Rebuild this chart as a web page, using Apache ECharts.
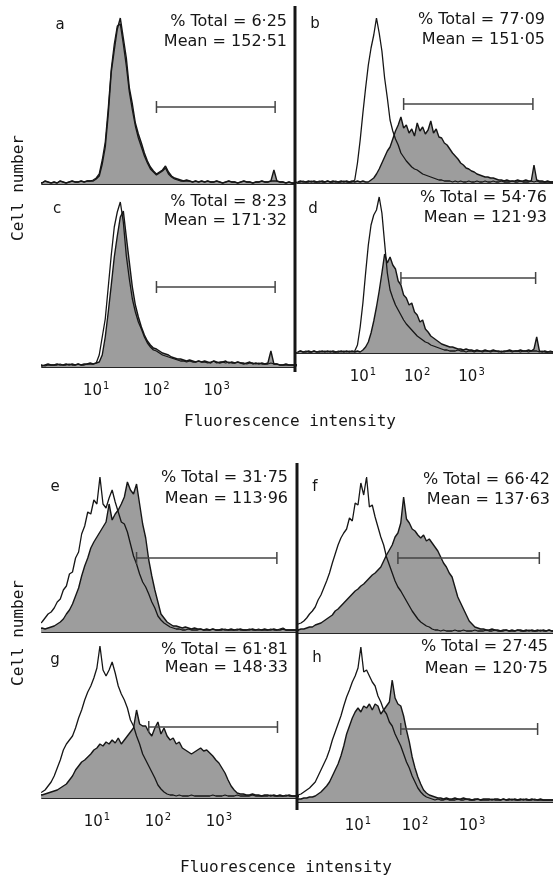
<!DOCTYPE html>
<html>
<head>
<meta charset="utf-8">
<title>Fluorescence histograms</title>
<script src="https://cdn.jsdelivr.net/npm/echarts@6/dist/echarts.min.js"></script>
<style>
  html, body { margin: 0; padding: 0; background: #fff; }
  #chart { width: 553px; height: 877px; }
</style>
</head>
<body>
<div id="chart"></div>
<script>
// channel bins, in decades (log10 of fluorescence intensity)
const bins = [
  -0.2,-0.15,-0.1,-0.05,0,0.05,0.1,0.15,0.2,0.25,
  0.3,0.35,0.4,0.45,0.5,0.55,0.6,0.65,0.7,0.75,
  0.8,0.85,0.9,0.95,1,1.05,1.1,1.15,1.2,1.25,
  1.3,1.35,1.4,1.45,1.5,1.55,1.6,1.65,1.7,1.75,
  1.8,1.85,1.9,1.95,2,2.05,2.1,2.15,2.2,2.25,
  2.3,2.35,2.4,2.45,2.5,2.55,2.6,2.65,2.7,2.75,
  2.8,2.85,2.9,2.95,3,3.05,3.1,3.15,3.2,3.25,
  3.3,3.35,3.4,3.45,3.5,3.55,3.6,3.65,3.7,3.75,
  3.8,3.85,3.9,3.95,4,4.05,4.1,4.15,4.2,4.25,
  4.3,4.35,4.4,4.45,4.5,4.55
];

// cell counts per bin (open = control, fill = stained)
const aOpen = [
  1,2,1,2,1,2,1,3,2,1, 2,1,3,2,1,2,3,2,2,3, 2,3,3,4,6,10,24,42,76,115,
  140,158,160,140,118,92,74,58,46,37, 28,21,15,12,9,11,13,16,10,7, 5,4,3,3,3,3,2,3,2,3,
  2,3,2,2,3,2,1,2,3,2, 2,1,2,3,2,2,1,2,2,3, 2,2,3,3,3,2,2,1,2,1, 1,2,1,2,1,1
];
const aFill = [
  1,2,1,2,1,2,1,3,2,1, 2,1,3,2,1,2,3,2,2,3, 2,3,3,3,5,8,20,37,70,112,
  134,155,166,146,126,96,80,61,50,41, 31,23,17,13,10,12,14,18,12,8, 6,5,4,3,4,3,2,3,2,3,
  2,3,2,2,3,2,1,2,3,2, 2,1,2,3,2,2,1,2,2,3, 2,2,3,14,3,2,2,1,2,1, 1,2,1,2,1,1
];
const bOpen = [
  1,1,2,1,1,2,1,1,2,1, 1,2,1,1,2,1,1,2,1,1, 1,3,20,43,70,95,118,135,148,165,
  150,132,105,85,63,52,44,38,30,26, 22,19,16,14,13,11,9,8,7,6, 5,4,3,3,2,2,2,1,2,1,
  2,1,1,2,1,1,2,1,1,2, 1,1,2,1,1,2,1,1,1,2, 1,1,2,1,1,1,2,1,2,1, 1,1,1,1,1,1
];
const bFill = [
  1,2,1,1,2,1,2,1,1,2, 1,2,1,2,1,1,2,1,2,1, 2,1,2,1,2,1,1,3,5,9,
  14,20,26,32,36,44,52,58,66,55, 58,50,54,47,60,52,56,49,53,62, 50,54,46,45,40,38,34,30,27,24,
  20,18,15,14,12,11,9,8,7,6, 6,5,5,4,3,3,2,3,2,2, 2,3,2,2,3,2,2,18,3,2, 2,1,2,1,1,1
];
const cOpen = [
  1,2,1,2,1,2,2,1,2,2, 2,2,3,2,2,3,2,2,3,2, 2,3,3,3,4,12,30,48,80,112,
  140,155,165,145,111,88,68,55,45,38, 30,24,20,17,16,14,12,11,10,9, 8,7,6,6,5,6,5,5,6,5,
  5,4,5,6,4,5,5,4,5,4, 4,5,4,4,3,4,4,3,4,3, 3,3,4,3,3,2,2,2,2,2, 2,2,2,2,2,2
];
const cFill = [
  2,1,2,1,2,2,1,2,3,2, 2,3,2,2,3,2,3,2,3,2, 3,3,4,3,4,5,12,30,55,82,
  110,131,150,156,130,105,80,62,50,40, 32,26,22,19,18,16,14,13,12,10, 9,8,8,7,6,7,6,5,6,5,
  6,5,4,6,5,4,5,6,4,5, 4,5,4,3,4,5,3,4,3,4, 3,4,16,3,3,2,2,3,2,2, 2,2,2,2,2,2
];
const dOpen = [
  1,2,1,2,1,1,2,1,2,1, 2,1,2,1,1,2,1,2,1,2, 1,2,8,26,50,80,108,128,138,143,
  156,140,110,80,63,55,48,43,38,33, 29,26,23,20,17,15,13,11,10,8, 7,6,5,4,3,3,2,2,2,3,
  2,2,1,2,2,1,2,2,1,2, 2,1,2,2,1,2,1,2,2,1, 2,2,1,2,2,1,2,2,2,1, 2,1,1,2,1,1
];
const dFill = [
  1,2,1,1,2,1,2,1,1,2, 1,2,1,2,1,1,2,1,2,1, 2,1,2,1,3,6,11,20,32,46,
  62,80,99,90,96,88,84,72,68,58, 55,48,50,41,38,31,33,24,21,17, 15,13,11,9,8,7,6,6,5,4,
  4,3,4,3,3,2,3,2,2,3, 2,2,3,2,2,1,2,2,3,2, 2,2,3,2,2,3,2,4,16,2, 1,2,1,1,1,1
];
const eOpen = [
  3,4,5,6,7,8,10,14,18,20, 24,30,33,42,46,58,60,74,80,98, 106,120,118,132,128,155,128,124,134,142,
  130,120,110,108,100,88,76,68,58,50, 45,38,30,24,16,12,9,7,5,4, 3,3,2,2,3,2,2,2,3,2,
  2,2,3,2,2,2,3,2,2,2, 3,2,2,2,3,2,2,3,2,2, 2,3,2,2,3,4,2,2,2,2, 2,2,2,2,2,2
];
const eFill = [
  1,2,2,3,2,3,4,3,4,5, 6,8,10,13,18,22,28,36,44,56, 66,74,84,90,95,100,105,110,128,112,
  118,122,128,135,150,142,138,148,128,108, 94,72,56,42,30,18,14,10,8,6, 6,5,4,5,4,3,4,3,3,2,
  3,2,3,2,2,3,2,2,3,2, 2,3,2,2,2,3,2,2,2,3, 2,2,3,2,2,3,2,2,2,2, 2,2,2,2,2,2
];
const fOpen = [
  6,7,8,9,10,12,15,19,22,26, 33,38,45,52,60,70,79,88,95,100, 104,115,112,130,128,150,138,156,126,128,
  116,106,96,88,76,68,60,52,46,42, 37,32,27,22,18,14,11,9,7,6, 4,3,3,2,3,2,2,2,3,2,
  2,3,2,2,2,3,2,2,2,3, 2,2,3,2,2,2,3,2,2,2, 3,2,2,2,3,2,2,2,3,2, 2,3,2,2,2,2
];
const fFill = [
  2,2,3,3,4,4,5,6,6,8, 9,10,12,14,16,18,22,24,27,30, 33,36,39,42,44,47,49,52,55,58,
  60,63,66,72,78,83,88,96,100,110, 136,114,110,104,102,98,95,98,92,94, 90,86,82,76,70,66,60,56,46,36,
  30,24,18,12,9,6,5,4,4,3, 3,4,3,3,2,3,3,2,3,2, 3,3,2,3,2,3,2,3,2,3, 2,3,2,2,2,2
];
const gOpen = [
  2,3,3,4,5,5,6,8,12,16, 22,30,38,48,54,58,62,70,80,88, 98,106,112,120,130,152,128,122,128,136,
  125,112,104,98,90,78,72,62,54,44, 38,32,26,20,13,9,6,4,3,3, 2,3,2,2,2,3,2,2,2,2,
  2,2,3,2,2,2,3,2,2,2, 3,2,2,2,2,3,2,2,2,2, 2,3,2,2,2,2,3,2,2,2, 2,2,2,2,2,2
];
const gFill = [
  1,2,2,3,3,4,3,4,5,6, 7,8,10,12,14,18,22,28,32,36, 38,41,44,48,50,54,52,56,54,58,
  55,60,54,58,62,66,70,88,74,72, 72,66,62,70,76,64,70,62,58,60, 54,56,50,48,46,44,46,48,50,47,
  48,45,42,38,35,30,25,18,12,8, 5,4,4,3,3,4,3,3,2,3, 3,2,3,2,3,2,2,3,2,2, 2,2,2,2,2,2
];
const hOpen = [
  4,5,6,7,8,10,12,14,17,20, 26,32,38,44,52,62,70,78,86,96, 105,112,120,126,134,155,130,132,126,120,
  116,106,100,92,88,80,76,68,62,56, 48,40,34,26,20,14,10,7,5,4, 3,2,3,2,2,3,2,2,2,3,
  2,2,3,2,2,2,3,2,2,2, 2,3,2,2,2,3,2,2,3,2, 2,2,3,2,2,2,3,2,2,2, 2,2,2,2,2,2
];
const hFill = [
  1,2,2,3,3,4,4,5,5,6, 8,10,13,16,20,26,32,38,46,56, 68,76,84,90,94,90,96,94,98,92,
  98,96,88,92,96,100,122,104,98,96, 86,72,60,45,34,25,18,12,9,7, 6,5,4,4,3,4,3,3,4,3,
  3,4,3,3,2,3,3,2,3,3, 3,2,3,3,2,3,2,3,2,3, 2,3,2,3,2,3,2,2,3,2, 2,2,2,2,2,2
];

const panelLetters = ['a', 'b', 'c', 'd', 'e', 'f', 'g', 'h'];
const openSeries = [aOpen, bOpen, cOpen, dOpen, eOpen, fOpen, gOpen, hOpen];
const fillSeries = [aFill, bFill, cFill, dFill, eFill, fFill, gFill, hFill];
const totals = ['6·25', '77·09', '8·23', '54·76', '31·75', '66·42', '61·81', '27·45'];
const means = ['152·51', '151·05', '171·32', '121·93', '113·96', '137·63', '148·33', '120·75'];
// gate marker: from / to (decades) and height (cell number)
const markerFrom = [2.0, 1.75, 2.0, 1.7, 1.65, 1.7, 1.85, 1.75];
const markerTo = [3.97, 4.13, 3.97, 4.18, 3.95, 4.18, 3.96, 4.15];
const markerLevel = [77, 79, 80, 75, 74, 75, 71, 73];
const decadeTicks = [1, 2, 3];

// panel boxes [left, top, width, height]; y max = height so counts read as px
const boxes = [
  [42, 8, 253, 176], [295, 8, 258, 175],
  [42, 190, 253, 177], [295, 184, 258, 169],
  [42, 465, 255, 167], [297, 465, 256, 168],
  [42, 640, 255, 158], [297, 640, 256, 162]
];
const xRanges = [
  [0.1, 4.3], [-0.25, 4.5], [0.1, 4.3], [-0.25, 4.5],
  [0.1, 4.28], [-0.07, 4.42], [0.1, 4.28], [-0.07, 4.42]
];
const statPos = [
  [287, 22, 42], [545, 20, 40], [287, 202, 221], [547, 198, 218],
  [288, 478, 499], [550, 480, 500], [288, 650, 668], [548, 647, 669]
];
const letterPos = [[60, 25], [315, 24], [57, 209], [313, 209], [55, 487], [315, 487], [55, 660], [317, 658]];

const FONT = 'DejaVu Sans';
const INK = '#161616';

const chart = echarts.init(document.getElementById('chart'));

const grid = [], xAxis = [], yAxis = [], series = [], graphic = [];

boxes.forEach(function (b, i) {
  const bottomRow = (i === 2 || i === 3 || i === 6 || i === 7);
  grid.push({ left: b[0], top: b[1], width: b[2], height: b[3] });
  xAxis.push({
    type: 'value', gridIndex: i, min: xRanges[i][0], max: xRanges[i][1],
    axisLine: { show: true, lineStyle: { color: '#262626', width: 2 } },
    axisTick: { show: false },
    splitLine: { show: false },
    axisLabel: {
      show: bottomRow,
      customValues: decadeTicks,
      margin: 14,
      formatter: function (v) { return '{n|10}{s|' + v + '}'; },
      rich: {
        n: { fontFamily: FONT, fontSize: 15, color: INK, lineHeight: 20 },
        s: { fontFamily: FONT, fontSize: 10, color: INK, lineHeight: 20, verticalAlign: 'top', padding: [0, 0, 6, 1] }
      }
    }
  });
  yAxis.push({
    type: 'value', gridIndex: i, min: 0, max: b[3],
    axisLine: { show: false }, axisTick: { show: false },
    axisLabel: { show: false }, splitLine: { show: false }
  });

  series.push({
    type: 'line', xAxisIndex: i, yAxisIndex: i, z: 2,
    data: bins.map(function (x, k) { return [x, fillSeries[i][k]]; }),
    showSymbol: false, symbol: 'none',
    lineStyle: { color: INK, width: 1.4 },
    areaStyle: { color: '#9d9d9d', opacity: 1 }
  });
  series.push({
    type: 'line', xAxisIndex: i, yAxisIndex: i, z: 3,
    data: bins.map(function (x, k) { return [x, openSeries[i][k]]; }),
    showSymbol: false, symbol: 'none',
    lineStyle: { color: INK, width: 1.3 }
  });
  series.push({
    type: 'line', xAxisIndex: i, yAxisIndex: i, z: 4,
    data: [[markerFrom[i], markerLevel[i]], [markerTo[i], markerLevel[i]]],
    symbol: 'rect', symbolSize: [1.5, 12], showSymbol: true,
    itemStyle: { color: '#444' },
    lineStyle: { color: '#444', width: 1.3 }
  });

  graphic.push({
    type: 'text', x: letterPos[i][0], y: letterPos[i][1], z: 10,
    style: { text: panelLetters[i], font: '15px "' + FONT + '"', fill: INK, align: 'center', verticalAlign: 'middle' }
  });
  graphic.push({
    type: 'text', x: statPos[i][0], y: statPos[i][1], z: 10,
    style: { text: '% Total = ' + totals[i], font: '16px "' + FONT + '"', fill: INK, align: 'right', verticalAlign: 'middle' }
  });
  graphic.push({
    type: 'text', x: statPos[i][0], y: statPos[i][2], z: 10,
    style: { text: 'Mean = ' + means[i], font: '16px "' + FONT + '"', fill: INK, align: 'right', verticalAlign: 'middle' }
  });
});

// panel separators
graphic.push({ type: 'line', z: 9, shape: { x1: 295, y1: 6, x2: 295, y2: 372 }, style: { stroke: INK, lineWidth: 3 } });
graphic.push({ type: 'line', z: 9, shape: { x1: 297, y1: 463, x2: 297, y2: 810 }, style: { stroke: INK, lineWidth: 3 } });

// axis titles
[[290, 422], [286, 868]].forEach(function (p) {
  graphic.push({
    type: 'text', x: p[0], y: p[1],
    style: { text: 'Fluorescence intensity', font: '16px "DejaVu Sans Mono"', fill: INK, align: 'center', verticalAlign: 'middle' }
  });
});
[[19, 188], [19, 633]].forEach(function (p) {
  graphic.push({
    type: 'text', x: p[0], y: p[1], rotation: Math.PI / 2,
    style: { text: 'Cell number', font: '16px "DejaVu Sans Mono"', fill: INK, align: 'center', verticalAlign: 'middle' }
  });
});

chart.setOption({
  animation: false,
  backgroundColor: '#ffffff',
  grid: grid,
  xAxis: xAxis,
  yAxis: yAxis,
  series: series,
  graphic: graphic
});
</script>
</body>
</html>
